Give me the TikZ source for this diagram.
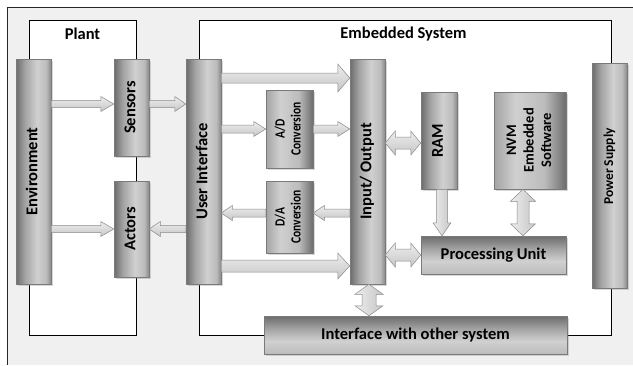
\documentclass[tikz,border=0pt]{standalone}
\usepackage{fontspec}
\usepackage{graphicx}
\setmainfont{Carlito}
\newfontfamily\condfont[FakeStretch=0.82]{Carlito}
\usetikzlibrary{shadows,calc}

\definecolor{bgc}{HTML}{F0F0F0}
\definecolor{shA}{HTML}{6C6C6C}
\definecolor{shB}{HTML}{A4A4A4}
\definecolor{shC}{HTML}{D0D0D0}
\definecolor{shD}{HTML}{BCBCBC}
\definecolor{shE}{HTML}{8A8A8A}
\definecolor{arrtop}{HTML}{EDEDED}
\definecolor{arrbot}{HTML}{C6C6C6}
\definecolor{arrline}{HTML}{8A8A8A}
\definecolor{blkline}{HTML}{7A7A7A}

% vertical blocks: colour varies left -> right (25bp = left edge, 75bp = right edge)
\pgfdeclarehorizontalshading{vblock}{100bp}{color(0bp)=(shA); color(25bp)=(shA); color(38bp)=(shB); color(55bp)=(shC); color(68bp)=(shD); color(75bp)=(shE); color(100bp)=(shE)}
% wide small blocks: light left, dark right
\pgfdeclarehorizontalshading{wblock}{100bp}{color(0bp)=(shB); color(25bp)=(shB); color(40bp)=(shC); color(60bp)=(shD); color(75bp)=(shA); color(100bp)=(shA)}
% horizontal blocks: colour varies bottom -> top (25bp = bottom, 75bp = top)
\pgfdeclareverticalshading{hblock}{100bp}{color(0bp)=(shD); color(25bp)=(shD); color(42bp)=(shC); color(58bp)=(shB); color(75bp)=(shA); color(100bp)=(shA)}

\newcommand\lblfont{\bfseries\fontsize{16.5}{19}\selectfont}
\newcommand\psfont{\bfseries\fontsize{13.5}{16}\selectfont}
\newcommand\nvmfont{\bfseries\fontsize{14.5}{17.5}\selectfont}
\newcommand\convfont{\condfont\bfseries\fontsize{14}{16}\selectfont}
\newcommand\vtext[1]{\rotatebox{90}{\begin{tabular}{@{}c@{}}#1\end{tabular}}}

% fat arrows between node anchors
\newcommand\arrH[5]{\path[fath] let \p1=#1, \p2=#2 in
  (\x1,{\y1+#3}) -- ({\x2-(#5)},{\y1+#3}) -- ({\x2-(#5)},{\y1+#4}) -- (\x2,\y1)
  -- ({\x2-(#5)},{\y1-#4}) -- ({\x2-(#5)},{\y1-#3}) -- (\x1,{\y1-#3}) -- cycle;}
\newcommand\arrHH[5]{\path[fath] let \p1=#1, \p2=#2 in
  (\x1,\y1) -- ({\x1+#5},{\y1+#4}) -- ({\x1+#5},{\y1+#3}) -- ({\x2-#5},{\y1+#3})
  -- ({\x2-#5},{\y1+#4}) -- (\x2,\y1) -- ({\x2-#5},{\y1-#4}) -- ({\x2-#5},{\y1-#3})
  -- ({\x1+#5},{\y1-#3}) -- ({\x1+#5},{\y1-#4}) -- cycle;}
\newcommand\arrV[5]{\path[fatv] let \p1=#1, \p2=#2 in
  ({\x1-#3},\y1) -- ({\x1-#3},{\y2+#5}) -- ({\x1-#4},{\y2+#5}) -- (\x1,\y2)
  -- ({\x1+#4},{\y2+#5}) -- ({\x1+#3},{\y2+#5}) -- ({\x1+#3},\y1) -- cycle;}
\newcommand\arrVV[5]{\path[fatv] let \p1=#1, \p2=#2 in
  (\x1,\y1) -- ({\x1+#4},{\y1-#5}) -- ({\x1+#3},{\y1-#5}) -- ({\x1+#3},{\y2+#5})
  -- ({\x1+#4},{\y2+#5}) -- (\x1,\y2) -- ({\x1-#4},{\y2+#5}) -- ({\x1-#3},{\y2+#5})
  -- ({\x1-#3},{\y1-#5}) -- ({\x1-#4},{\y1-#5}) -- cycle;}

\begin{document}
\begin{tikzpicture}[x=1pt,y=-1pt,
  blk/.style={draw=blkline, line width=0.5pt, inner sep=0pt, shade,
    drop shadow={shadow xshift=1.8pt,shadow yshift=-1.8pt,opacity=0.3},
    font=\lblfont},
  vblk/.style={blk, shading=vblock},
  wblk/.style={blk, shading=wblock},
  hblk/.style={blk, shading=hblock},
  frm/.style={draw=black, line width=0.7pt, fill=white, inner sep=0pt},
  ttl/.style={font=\lblfont, inner sep=0pt},
  fath/.style={draw=arrline, line width=0.5pt, top color=arrtop, bottom color=arrbot},
  fatv/.style={draw=arrline, line width=0.5pt, left color=arrtop, right color=arrbot},
]
\useasboundingbox (0,0) rectangle (633,365);
\fill[white] (0,0) rectangle (633,365);
\fill[bgc] (7,7) rectangle (633,365);
\draw[line width=0.8pt, black!85] (7,365) -- (7,7) -- (633,7);

% frames
\node[frm, minimum width=107pt, minimum height=315pt] (plant) at (82.5,177.5) {};
\node[frm, minimum width=412pt, minimum height=315pt] (emb) at (405,177.5) {};
\node[ttl] (plantT) at (82.5,34) {Plant};
\node[ttl] (embT) at (403.5,34) {Embedded System};

% blocks
\node[vblk, minimum width=35pt, minimum height=225pt] (env) at (33.5,171.5) {\vtext{Environment}};
\node[vblk, minimum width=35pt, minimum height=97pt] (sen) at (131.5,107.5) {\vtext{Sensors}};
\node[vblk, minimum width=35pt, minimum height=96pt] (act) at (131.5,229) {\vtext{Actors}};
\node[vblk, minimum width=35pt, minimum height=225pt] (ui) at (203.5,171.5) {\vtext{User Interface}};
\node[wblk, minimum width=47pt, minimum height=78pt, font=\convfont] (ad) at (289.5,129)
  {\vtext{A/D\\Conversion}};
\node[wblk, minimum width=47pt, minimum height=72pt, font=\convfont] (da) at (289.5,217)
  {\vtext{D/A\\Conversion}};
\node[vblk, minimum width=35pt, minimum height=225pt] (io) at (367.5,171.5) {\vtext{Input/ Output}};
\node[vblk, minimum width=36pt, minimum height=97pt] (ram) at (439,140.5) {\vtext{RAM}};
\node[wblk, minimum width=72pt, minimum height=97pt, font=\nvmfont] (nvm) at (530,140.5)
  {\vtext{NVM\\Embedded\\Software}};
\node[hblk, minimum width=145pt, minimum height=38pt] (pu) at (493.5,255) {Processing Unit};
\node[vblk, minimum width=35pt, minimum height=225pt, font=\psfont] (ps) at (609.5,175.5)
  {\rotatebox{90}{\hspace*{18pt}Power Supply}};
\node[hblk, minimum width=303pt, minimum height=38pt] (ios) at (415.5,335) {Interface with other system};

% fat arrows
\arrH{(env.east |- 0,104)}{(sen.west |- 0,104)}{3.5pt}{7.5pt}{13pt}
\arrH{(sen.east |- 0,104)}{(ui.west |- 0,104)}{3.5pt}{7.5pt}{11pt}
\arrH{(ui.east |- 0,78)}{(io.west |- 0,78)}{5pt}{14pt}{12pt}
\arrH{(ui.east |- ad.west)}{(ad.west)}{4pt}{7.5pt}{12pt}
\arrH{(ad.east)}{(io.west |- ad.east)}{4pt}{7.5pt}{12pt}
\arrH{(io.west |- 0,213)}{(da.east |- 0,213)}{4pt}{7.5pt}{-11pt}
\arrH{(da.west |- 0,213)}{(ui.east |- 0,213)}{4pt}{7.5pt}{-11pt}
\arrH{(ui.east |- 0,266)}{(io.west |- 0,266)}{6pt}{13pt}{12pt}
\arrH{(env.east |- act.west)}{(act.west)}{3.5pt}{7.5pt}{13pt}
\arrH{(ui.west |- act.east)}{(act.east)}{3.5pt}{7.5pt}{-11pt}
\arrHH{(io.east |- 0,143)}{(ram.west |- 0,143)}{6pt}{12pt}{10pt}
\arrHH{(io.east |- pu.west)}{(pu.west)}{6pt}{12pt}{10pt}
\arrV{(ram.south -| 442,0)}{(pu.north -| 442,0)}{5.5pt}{9pt}{13pt}
\arrVV{(nvm.south -| 523,0)}{(pu.north -| 523,0)}{6pt}{12.5pt}{12pt}
\arrVV{(io.south -| 369,0)}{(ios.north -| 369,0)}{7pt}{14pt}{10pt}
\end{tikzpicture}
\end{document}
